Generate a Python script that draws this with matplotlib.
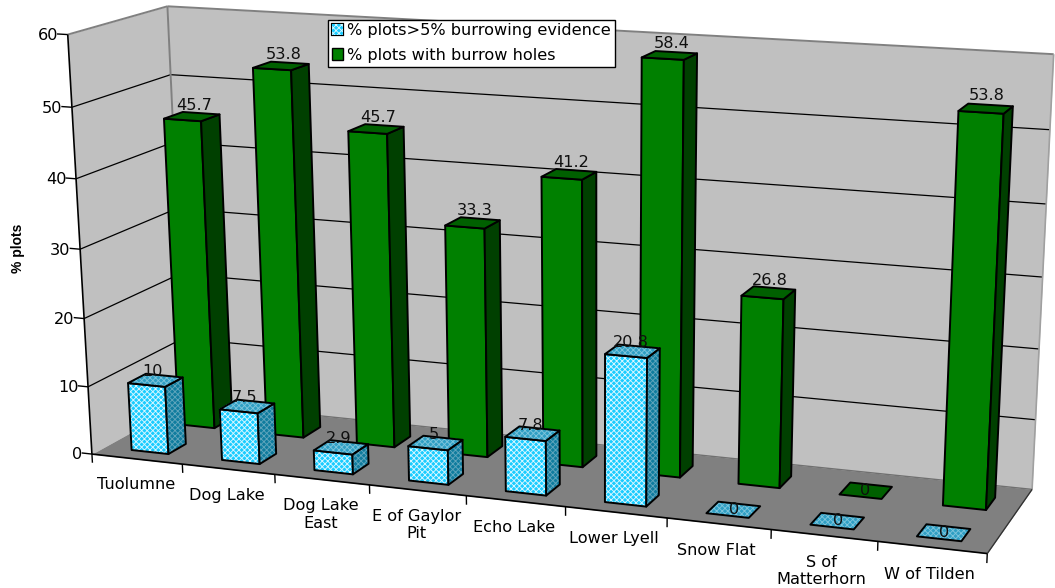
import numpy as np
import matplotlib
matplotlib.use("Agg")
import matplotlib.pyplot as plt
import matplotlib.patheffects as pe
from matplotlib.patches import Patch
from mpl_toolkits.mplot3d import proj3d
from mpl_toolkits.mplot3d.axes3d import Axes3D
from mpl_toolkits.mplot3d.art3d import Poly3DCollection, Line3DCollection

# ---- chart values -------------------------------------------------------
categories = ["Tuolumne", "Dog Lake", "Dog Lake\nEast", "E of Gaylor\nPit", "Echo Lake",
              "Lower Lyell", "Snow Flat", "S of\nMatterhorn", "W of Tilden"]
burrowing_evidence = [10, 7.5, 2.9, 5, 7.8, 20.8, 0, 0, 0]
burrow_holes = [45.7, 53.8, 45.7, 33.3, 41.2, 58.4, 26.8, 0, 53.8]
value_ticks = [0, 10, 20, 30, 40, 50, 60]
series_names = ["% plots>5% burrowing evidence", "% plots with burrow holes"]

WIDTH, HEIGHT = 1055, 588
N = len(categories)
ZMAX = 60
FONT = 11.6
CLEAR = (0, 0, 0, 0)

# Camera calibration: where corners of the plot box land on the canvas (pixels, top-left origin)
BOX_CORNERS = [((0, 0, 0), (90, 456)), ((0, 0, 60), (70, 34)), ((0, 1, 60), (165, 7)),
               ((0, 1, 0), (188, 400)), ((9, 1, 0), (1032, 491)), ((9, 1, 60), (1054, 54)),
               ((9, 0, 0), (987, 552))]


class FixedCameraAxes(Axes3D):
    """3D axes with a camera solved from known box corners and a free-form panel shape."""

    def apply_aspect(self, position=None):
        pass

    def get_proj(self):
        scale = np.array([N, 1.0, ZMAX])
        rows = []
        for world, (px, py) in BOX_CORNERS:
            u, v = self.transData.inverted().transform((px, HEIGHT - py))
            w = np.append(np.array(world) / scale, 1.0)
            rows.append(np.concatenate([w, np.zeros(4), -u * w]))
            rows.append(np.concatenate([np.zeros(4), w, -v * w]))
        _, _, vt = np.linalg.svd(np.array(rows))
        p = vt[-1].reshape(3, 4) @ np.diag([1 / scale[0], 1 / scale[1], 1 / scale[2], 1.0])
        return np.array([p[0], p[1], [0, 1, 0, 0], p[2]])


fig = plt.figure(figsize=(WIDTH / 100, HEIGHT / 100), dpi=100, facecolor="white")
ax = FixedCameraAxes(fig, [0, 0, 1, 1], computed_zorder=False)
fig.add_axes(ax)
ax.set_axis_off()
ax.set_xlim(0, N)
ax.set_ylim(0, 1)
ax.set_zlim(0, ZMAX)
ax.set_autoscale_on(False)

plt.rcParams["hatch.linewidth"] = 0.65


def face(verts, fc, zorder, hatch=None, hatch_color=None, ec=CLEAR, lw=0.0):
    if hatch:
        ax.add_collection3d(Poly3DCollection([verts], facecolors=fc, edgecolors=hatch_color,
                                             linewidths=0, hatch=hatch, zorder=zorder),
                            autolim=False)
        fc = CLEAR
    ax.add_collection3d(Poly3DCollection([verts], facecolors=fc, edgecolors=ec, linewidths=lw,
                                         zorder=zorder + 0.001), autolim=False)


def line3(start, end, color="black", lw=0.9, zorder=0.5):
    ax.add_collection3d(Line3DCollection([[start, end]], colors=color, linewidths=lw,
                                         zorder=zorder, capstyle="butt"), autolim=False)


def label3(x, y, z, text, **kwargs):
    # Text stays upright: only its anchor goes through the camera
    px, py, _ = proj3d.proj_transform(x, y, z, ax.get_proj())
    ax.text2D(px, py, text, transform=ax.transData, fontsize=FONT, **kwargs)


def box(i, y0, y1, x_left, x_right, value, colors, zorder, hatch=None, hatch_colors=(None, None, None)):
    x0, x1 = i + x_left, i + x_right
    top = [(x0, y0, value), (x1, y0, value), (x1, y1, value), (x0, y1, value)]
    if value > 0:
        front = [(x0, y0, 0), (x1, y0, 0), (x1, y0, value), (x0, y0, value)]
        side = [(x1, y0, 0), (x1, y1, 0), (x1, y1, value), (x1, y0, value)]
        face(front, colors[0], zorder, hatch, hatch_colors[0], "black", 1.4)
        face(side, colors[1], zorder + 0.01, hatch, hatch_colors[1], "black", 1.4)
    face(top, colors[2], zorder + 0.02, hatch, hatch_colors[2], "black", 1.4)


# ---- plot box ----------------------------------------------------------
WALL, FLOOR = "#C0C0C0", "#808080"
face([(0, 1, 0), (N, 1, 0), (N, 1, ZMAX), (0, 1, ZMAX)], WALL, 0.1)
face([(0, 0, 0), (0, 1, 0), (0, 1, ZMAX), (0, 0, ZMAX)], WALL, 0.1)
face([(0, 0, 0), (N, 0, 0), (N, 1, 0), (0, 1, 0)], FLOOR, 0.3)
for v in value_ticks[1:-1]:
    line3((0, 0, v), (0, 1, v), zorder=0.5)
    line3((0, 1, v), (N, 1, v), zorder=0.5)

line3((0, 0, ZMAX), (0, 1, ZMAX), color="#808080", lw=1.4)
line3((0, 1, ZMAX), (N, 1, ZMAX), color="#808080", lw=1.4)
line3((0, 1, 0), (0, 1, ZMAX), color="#808080", lw=1.4)
line3((N, 1, 0), (N, 1, ZMAX), color="#A0A0A0", lw=1.2)
line3((0, 1, 0), (N, 1, 0), color="#707070", lw=1.0)
line3((0, 0, 0), (0, 0, ZMAX), lw=1.2, zorder=0.55)
line3((0, 0, 0), (N, 0, 0), lw=1.2, zorder=0.55)
line3((N, 0, 0), (N, 1, 0), color="#303030", lw=0.9, zorder=0.55)

# Axis ticks and their labels
for v in value_ticks:
    line3((-0.115, 0, v), (0, 0, v), lw=1.0, zorder=0.56)
    label3(-0.105, 0, v - 0.25, str(v), ha="right", va="center", zorder=6)
for i in range(N + 1):
    line3((i, 0, 0), (i, 0, -1.3), lw=1.0, zorder=0.56)
for i, name in enumerate(categories):
    label3(i + 0.48, 0, -2.75, name, ha="center", va="top", linespacing=1.2, zorder=6)

fig.text(18 / WIDTH, 1 - 248 / HEIGHT, "% plots", rotation=90, ha="center", va="center",
         fontsize=10, fontweight="bold", family="Liberation Sans")

# ---- bars ---------------------------------------------------------------
GREEN = ("#008000", "#004000", "#006000")
BLUE = ("#19CCFF", "#0F7C9E", "#2F9FC4")
BLUE_HATCH = ("#D8F6FF", "#5FA5BC", "#7DC4DB")

for i, v in enumerate(burrow_holes):
    box(i, 0.62, 0.82, 0.305, 0.715, v, GREEN, 1 + i * 0.05)
for i, v in enumerate(burrowing_evidence):
    box(i, 0.135, 0.32, 0.29, 0.70, v, BLUE, 2 + i * 0.05, hatch="xxxxxx", hatch_colors=BLUE_HATCH)

# ---- value labels -------------------------------------------------------
for series, y_raised, y_flat in ((burrow_holes, 0.76, 0.72), (burrowing_evidence, 0.20, 0.2275)):
    for i, v in enumerate(series):
        label3(i + 0.505, y_raised if v > 0 else y_flat, v + 1.4 if v > 0 else v, f"{v:g}",
               ha="center", va="center", color="#101010", zorder=4)

# ---- legend -------------------------------------------------------------
handles = [Patch(facecolor=BLUE[0], edgecolor="#D8F6FF", hatch="xxxxxx", linewidth=0,
                 path_effects=[pe.withStroke(linewidth=1.6, foreground="black")],
                 label=series_names[0]),
           Patch(facecolor=GREEN[0], edgecolor="black", label=series_names[1])]
legend = ax.legend(handles=handles, loc="upper left",
                   bbox_to_anchor=(328 / WIDTH, 1 - 19.5 / HEIGHT),
                   fontsize=FONT, frameon=True, fancybox=False, framealpha=1, edgecolor="black",
                   borderpad=0.23, labelspacing=0.6, handlelength=0.72, handleheight=0.75,
                   handletextpad=0.25, borderaxespad=0)
legend.get_frame().set_linewidth(1.0)
legend.set_zorder(7)

fig.savefig("out.png", dpi=100)
